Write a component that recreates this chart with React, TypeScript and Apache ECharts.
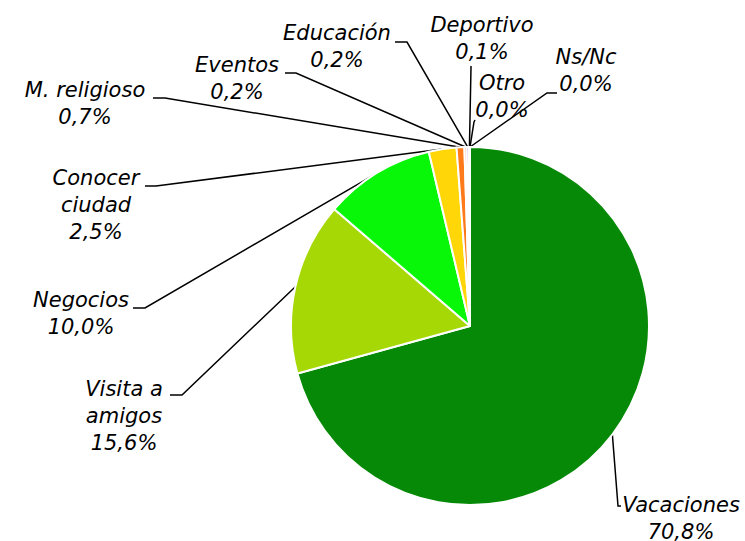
import React, { useEffect, useRef } from "react";
import * as echarts from "echarts";

const categories = [
  "Vacaciones",
  "Visita a\namigos",
  "Negocios",
  "Conocer\nciudad",
  "M. religioso",
  "Eventos",
  "Educación",
  "Deportivo",
  "Otro",
  "Ns/Nc",
];
const values = [70.8, 15.6, 10.0, 2.5, 0.7, 0.2, 0.2, 0.1, 0.0, 0.0];
const colors = [
  "#068906",
  "#A6D806",
  "#08F708",
  "#FFD608",
  "#FF7A1A",
  "#E03020",
  "#9A4FB0",
  "#3F7FDF",
  "#8F8F8F",
  "#CFCFCF",
];

// label layout: [centerX, topY, elbowX, elbowY, endX, endY]
const labelLayoutPos: number[][] = [
  [681, 491, 618, 506, 621, 506],
  [124, 375, 182, 395, 170, 395],
  [81, 286, 145, 308, 133, 308],
  [96, 164, 156, 186, 145, 186],
  [85, 76, 165, 98, 153, 98],
  [237, 51, 296, 73, 285, 73],
  [337, 19, 407, 42, 395, 42],
  [482, 11, 471, 67, 471, 66],
  [502, 69, 474, 122, 475, 120],
  [586, 43, 547, 93, 557, 93],
];

const CX = 470;
const CY = 326;
const R = 179;

export default function App() {
  const ref = useRef<HTMLDivElement>(null);
  useEffect(() => {
    document.body.style.margin = "0";
    if (!ref.current) return;
    const chart = echarts.init(ref.current, undefined, { renderer: "svg" });
    const total = values.reduce((a, b) => a + b, 0);
    const cum: number[] = [];
    let acc = 0;
    values.forEach((v) => {
      cum.push(acc + v / 2);
      acc += v;
    });
    chart.setOption({
      animation: false,
      backgroundColor: "#ffffff",
      series: [
        {
          type: "pie",
          center: [CX, CY],
          radius: R,
          startAngle: 90,
          clockwise: true,
          avoidLabelOverlap: false,
          minShowLabelAngle: 0,
          data: categories.map((c, i) => ({
            name: c,
            value: values[i],
            itemStyle: { color: colors[i] },
          })),
          itemStyle: { borderColor: "#ffffff", borderWidth: 2 },
          label: {
            show: true,
            color: "#000",
            fontFamily: "DejaVu Sans",
            fontStyle: "italic",
            fontSize: 21,
            lineHeight: 27,
            formatter: (p: any) =>
              p.name + "\n" + Number(p.value).toFixed(1).replace(".", ",") + "%",
          },
          labelLine: {
            show: true,
            lineStyle: { color: "#000", width: 1.5 },
          },
          labelLayout: (params: any) => {
            const i = params.dataIndex;
            const pos = labelLayoutPos[i];
            const ang = (cum[i] / total) * Math.PI * 2;
            const fallback = [CX + R * Math.sin(ang), CY - R * Math.cos(ang)];
            const start =
              params.labelLinePoints && params.labelLinePoints[0]
                ? params.labelLinePoints[0]
                : fallback;
            return {
              x: pos[0],
              y: pos[1],
              align: "center",
              verticalAlign: "top",
              labelLinePoints: [start, [pos[2], pos[3]], [pos[4], pos[5]]],
            };
          },
        },
      ],
    });
    return () => chart.dispose();
  }, []);
  return <div ref={ref} style={{ width: 745, height: 541 }} />;
}
